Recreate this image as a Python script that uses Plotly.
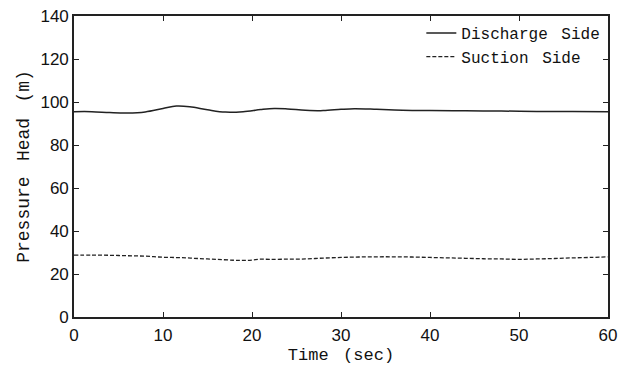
import plotly.graph_objects as go

time = [0, 2, 4, 6, 8, 10, 11.5, 13, 15, 17, 19, 21, 22.5, 24, 26, 28, 30, 31.5, 34, 36, 38, 40, 44, 48, 52, 56, 60]
discharge = [95.5, 95.5, 95.1, 94.9, 95.4, 97.0, 98.1, 97.8, 96.4, 95.3, 95.5, 96.5, 97.0, 96.8, 96.2, 96.0, 96.6, 96.9, 96.6, 96.3, 96.1, 96.0, 95.9, 95.8, 95.6, 95.6, 95.5]

time_s = [0, 2, 4, 6, 8, 10, 12, 14, 16, 18, 19, 20, 21, 22, 24, 26, 28, 30, 32, 34, 36, 38, 40, 42, 44, 46, 48, 50, 52, 54, 56, 58, 60]
suction = [28.8, 28.8, 28.7, 28.5, 28.3, 27.8, 27.6, 27.2, 26.8, 26.4, 26.3, 26.5, 26.9, 26.8, 26.9, 27.0, 27.4, 27.7, 27.9, 28.0, 28.0, 27.9, 27.7, 27.5, 27.3, 27.1, 27.0, 26.8, 27.0, 27.2, 27.5, 27.7, 28.0]

x_ticks = [0, 10, 20, 30, 40, 50, 60]
y_ticks = [0, 20, 40, 60, 80, 100, 120, 140]

mono = "Liberation Mono, Courier New, monospace"
sp = " \u2005"

fig = go.Figure()
fig.add_trace(go.Scatter(x=time, y=discharge, mode="lines", name="Discharge" + sp + "Side",
                         line=dict(color="#222", width=1.5, shape="spline", smoothing=1.0)))
fig.add_trace(go.Scatter(x=time_s, y=suction, mode="lines", name="Suction" + sp + "Side",
                         line=dict(color="#222", width=1.3, dash="4px,2px", shape="spline")))

axis_common = dict(showgrid=False, zeroline=False, showline=True, linecolor="#222", linewidth=1.6,
                   mirror="ticks", ticks="inside", ticklen=5, tickcolor="#222", tickwidth=1.2,
                   automargin=False,
                   tickfont=dict(family="Liberation Sans, Arial, sans-serif", size=17, color="#111"))

fig.update_layout(
    width=630, height=366,
    margin=dict(l=74, r=22, t=16, b=49),
    paper_bgcolor="white", plot_bgcolor="white",
    showlegend=True,
    legend=dict(x=0.995, y=1.0, xanchor="right", yanchor="top", bgcolor="rgba(0,0,0,0)",
                font=dict(family=mono, size=16, color="#111"), tracegroupgap=0, itemwidth=30),
    xaxis=dict(range=[0, 60], tickvals=x_ticks, ticklabelstandoff=2, **axis_common,
               title=dict(text="Time" + sp + "(sec)", font=dict(family=mono, size=17, color="#111"), standoff=4)),
    yaxis=dict(range=[0, 140], tickvals=y_ticks, **axis_common,
               title=dict(text="Pressure" + sp + "Head" + sp + "(m)", font=dict(family=mono, size=18, color="#111"), standoff=6)),
)

fig.write_html("out.html")
